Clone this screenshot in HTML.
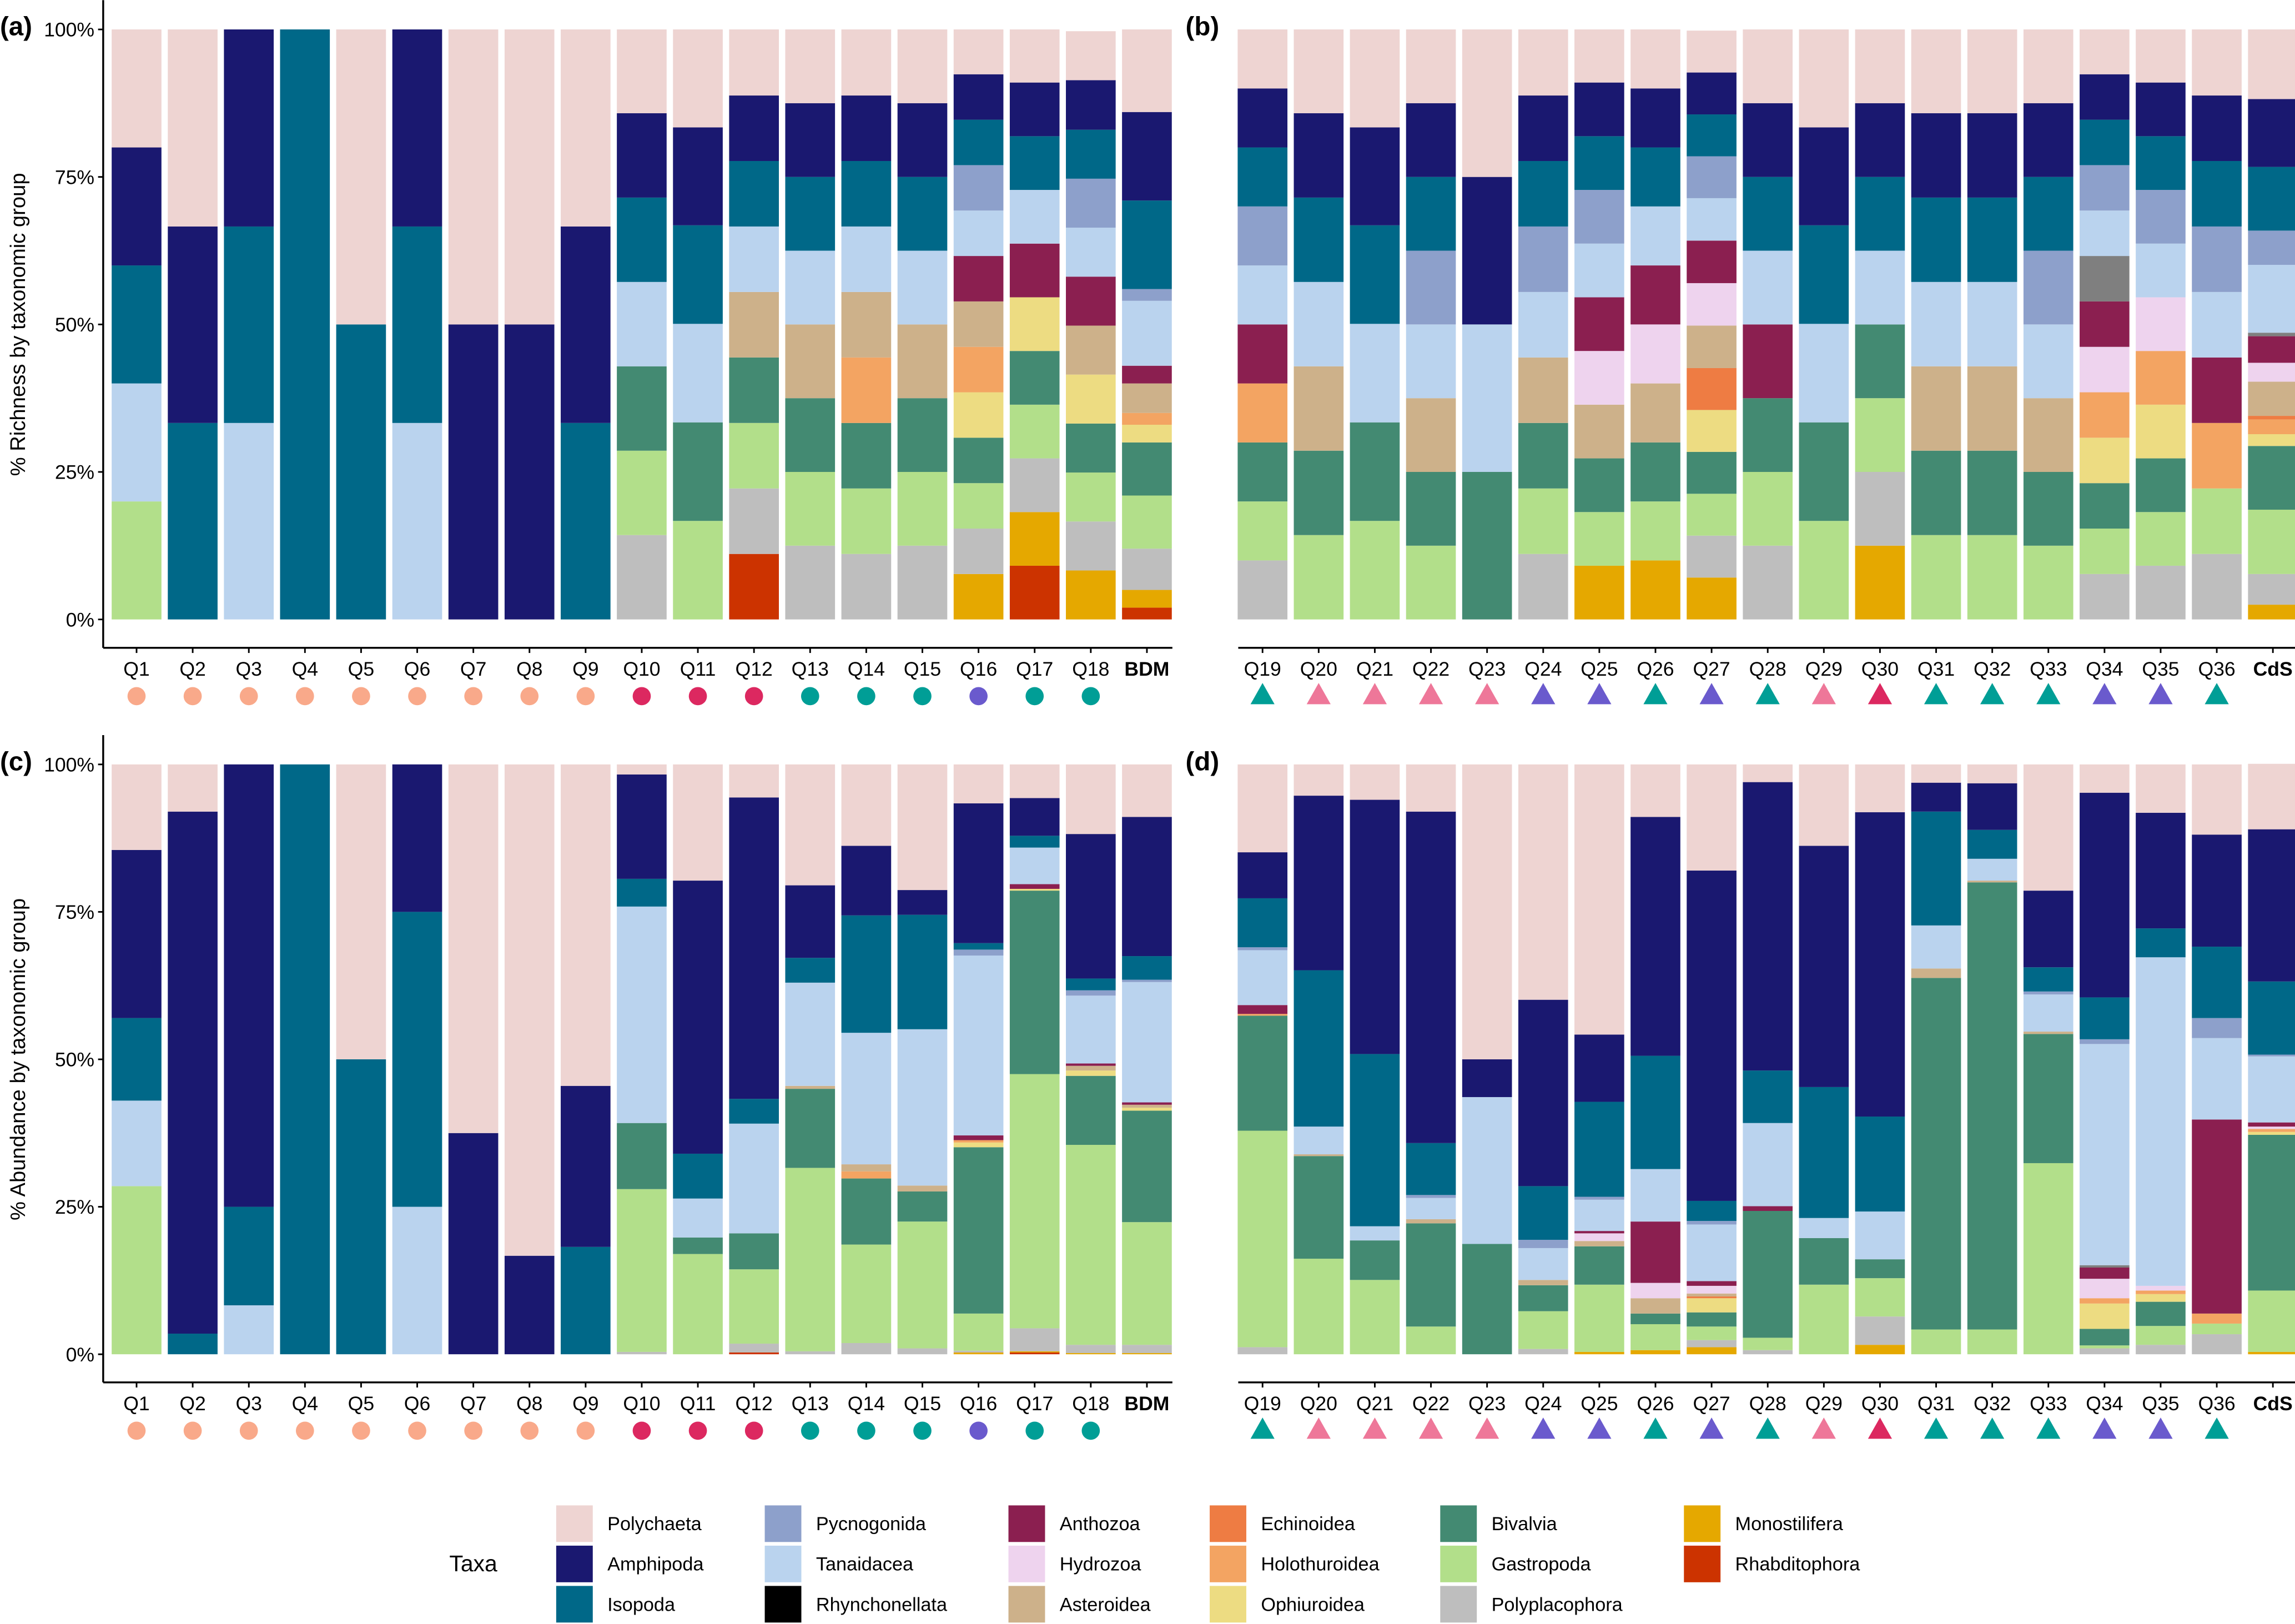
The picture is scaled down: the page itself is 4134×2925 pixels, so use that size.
<!DOCTYPE html>
<html><head><meta charset="utf-8"><title>Taxonomic composition</title>
<style>
html,body{margin:0;padding:0;background:#fff;}
svg{display:block;font-family:"Liberation Sans",Arial,sans-serif;}
</style></head>
<body>
<svg id="chart" xmlns="http://www.w3.org/2000/svg" width="4134" height="2925" viewBox="0 0 1568 1109" preserveAspectRatio="none"></svg>
<script>
// ---- data ----
const taxaCodes = ["Po","Am","Is","Py","Ta","Rh","Gr","An","Hy","As","Ec","Ho","Op","Bi","Ga","Pl","Mo","Ra"];
const taxaNames = {Po:"Polychaeta",Am:"Amphipoda",Is:"Isopoda",Py:"Pycnogonida",Ta:"Tanaidacea",Rh:"Rhynchonellata",Gr:"Other",An:"Anthozoa",Hy:"Hydrozoa",As:"Asteroidea",Ec:"Echinoidea",Ho:"Holothuroidea",Op:"Ophiuroidea",Bi:"Bivalvia",Ga:"Gastropoda",Pl:"Polyplacophora",Mo:"Monostilifera",Ra:"Rhabditophora"};
const taxaColors = {Po:"#EED4D2",Am:"#1A1870",Is:"#006888",Py:"#8DA0CB",Ta:"#BAD3EE",Rh:"#000000",Gr:"#7F7F7F",An:"#8B1F50",Hy:"#EED3EE",As:"#CDB18A",Ec:"#EE7C43",Ho:"#F3A462",Op:"#EDDC82",Bi:"#438A72",Ga:"#B2DF8A",Pl:"#BEBEBE",Mo:"#E5A800",Ra:"#CC3300"};
const stackOrder = ["Ra","Mo","Pl","Ga","Bi","Op","Ho","Ec","As","Hy","An","Gr","Rh","Ta","Py","Is","Am","Po"];

const sitesLeft = ["Q1","Q2","Q3","Q4","Q5","Q6","Q7","Q8","Q9","Q10","Q11","Q12","Q13","Q14","Q15","Q16","Q17","Q18","BDM"];
const sitesRight = ["Q19","Q20","Q21","Q22","Q23","Q24","Q25","Q26","Q27","Q28","Q29","Q30","Q31","Q32","Q33","Q34","Q35","Q36","CdS"];
const markersLeft = ["s","s","s","s","s","s","s","s","s","c","c","c","t","t","t","p","t","t",""];
const markersRight = ["t","k","k","k","k","p","p","t","p","t","k","c","t","t","t","p","p","t",""];
const yTicks = [0,25,50,75,100];
const yTickLabels = ["0%","25%","50%","75%","100%"];

// (a) richness, left sites
const richnessA = [
 [["Ga",20],["Ta",20],["Is",20],["Am",20],["Po",20]],
 [["Is",33.3],["Am",33.3],["Po",33.4]],
 [["Ta",33.3],["Is",33.3],["Am",33.4]],
 [["Is",100]],
 [["Is",50],["Po",50]],
 [["Ta",33.3],["Is",33.3],["Am",33.4]],
 [["Am",50],["Po",50]],
 [["Am",50],["Po",50]],
 [["Is",33.3],["Am",33.3],["Po",33.4]],
 [["Pl",14.3],["Ga",14.3],["Bi",14.3],["Ta",14.3],["Is",14.3],["Am",14.3],["Po",14.2]],
 [["Ga",16.7],["Bi",16.7],["Ta",16.7],["Is",16.7],["Am",16.6],["Po",16.6]],
 [["Ra",11.1],["Pl",11.1],["Ga",11.1],["Bi",11.1],["As",11.1],["Ta",11.1],["Is",11.1],["Am",11.1],["Po",11.2]],
 [["Pl",12.5],["Ga",12.5],["Bi",12.5],["As",12.5],["Ta",12.5],["Is",12.5],["Am",12.5],["Po",12.5]],
 [["Pl",11.1],["Ga",11.1],["Bi",11.1],["Ho",11.1],["As",11.1],["Ta",11.1],["Is",11.1],["Am",11.1],["Po",11.2]],
 [["Pl",12.5],["Ga",12.5],["Bi",12.5],["As",12.5],["Ta",12.5],["Is",12.5],["Am",12.5],["Po",12.5]],
 [["Mo",7.7],["Pl",7.7],["Ga",7.7],["Bi",7.7],["Op",7.7],["Ho",7.7],["As",7.7],["An",7.7],["Ta",7.7],["Py",7.7],["Is",7.7],["Am",7.7],["Po",7.6]],
 [["Ra",9.1],["Mo",9.1],["Pl",9.1],["Ga",9.1],["Bi",9.1],["Op",9.1],["An",9.1],["Ta",9.1],["Is",9.1],["Am",9.1],["Po",9]],
 [["Mo",8.3],["Pl",8.3],["Ga",8.3],["Bi",8.3],["Op",8.3],["As",8.3],["An",8.3],["Ta",8.3],["Py",8.3],["Is",8.3],["Am",8.4],["Po",8.3]],
 [["Ra",2],["Mo",3],["Pl",7],["Ga",9],["Bi",9],["Op",3],["Ho",2],["As",5],["An",3],["Ta",11],["Py",2],["Is",15],["Am",15],["Po",14]]
];
// (b) richness, right sites
const richnessB = [
 [["Pl",10],["Ga",10],["Bi",10],["Ho",10],["An",10],["Ta",10],["Py",10],["Is",10],["Am",10],["Po",10]],
 [["Ga",14.3],["Bi",14.3],["As",14.3],["Ta",14.3],["Is",14.3],["Am",14.3],["Po",14.2]],
 [["Ga",16.7],["Bi",16.7],["Ta",16.7],["Is",16.7],["Am",16.6],["Po",16.6]],
 [["Ga",12.5],["Bi",12.5],["As",12.5],["Ta",12.5],["Py",12.5],["Is",12.5],["Am",12.5],["Po",12.5]],
 [["Bi",25],["Ta",25],["Am",25],["Po",25]],
 [["Pl",11.1],["Ga",11.1],["Bi",11.1],["As",11.1],["Ta",11.1],["Py",11.1],["Is",11.1],["Am",11.1],["Po",11.2]],
 [["Mo",9.1],["Ga",9.1],["Bi",9.1],["As",9.1],["Hy",9.1],["An",9.1],["Ta",9.1],["Py",9.1],["Is",9.1],["Am",9.1],["Po",9]],
 [["Mo",10],["Ga",10],["Bi",10],["As",10],["Hy",10],["An",10],["Ta",10],["Is",10],["Am",10],["Po",10]],
 [["Mo",7.1],["Pl",7.1],["Ga",7.1],["Bi",7.1],["Op",7.1],["Ec",7.1],["As",7.2],["Hy",7.2],["An",7.2],["Ta",7.2],["Py",7.1],["Is",7.1],["Am",7.1],["Po",7.1]],
 [["Pl",12.5],["Ga",12.5],["Bi",12.5],["An",12.5],["Ta",12.5],["Is",12.5],["Am",12.5],["Po",12.5]],
 [["Ga",16.7],["Bi",16.7],["Ta",16.7],["Is",16.7],["Am",16.6],["Po",16.6]],
 [["Mo",12.5],["Pl",12.5],["Ga",12.5],["Bi",12.5],["Ta",12.5],["Is",12.5],["Am",12.5],["Po",12.5]],
 [["Ga",14.3],["Bi",14.3],["As",14.3],["Ta",14.3],["Is",14.3],["Am",14.3],["Po",14.2]],
 [["Ga",14.3],["Bi",14.3],["As",14.3],["Ta",14.3],["Is",14.3],["Am",14.3],["Po",14.2]],
 [["Ga",12.5],["Bi",12.5],["As",12.5],["Ta",12.5],["Py",12.5],["Is",12.5],["Am",12.5],["Po",12.5]],
 [["Pl",7.7],["Ga",7.7],["Bi",7.7],["Op",7.7],["Ho",7.7],["Hy",7.7],["An",7.7],["Gr",7.7],["Ta",7.7],["Py",7.7],["Is",7.7],["Am",7.7],["Po",7.6]],
 [["Pl",9.1],["Ga",9.1],["Bi",9.1],["Op",9.1],["Ho",9.1],["Hy",9.1],["Ta",9.1],["Py",9.1],["Is",9.1],["Am",9.1],["Po",9]],
 [["Pl",11.1],["Ga",11.1],["Ho",11.1],["An",11.1],["Ta",11.1],["Py",11.1],["Is",11.1],["Am",11.1],["Po",11.2]],
 [["Mo",2.5],["Pl",5.2],["Ga",10.9],["Bi",10.8],["Op",2],["Ho",2.5],["Ec",0.6],["As",5.8],["Hy",3.2],["An",4.5],["Gr",0.6],["Ta",11.5],["Py",5.8],["Is",10.8],["Am",11.5],["Po",11.8]]
];
// (c) abundance, left sites
const abundanceC = [
 [["Ga",28.5],["Ta",14.5],["Is",14],["Am",28.5],["Po",14.5]],
 [["Is",3.5],["Am",88.5],["Po",8]],
 [["Ta",8.3],["Is",16.7],["Am",75]],
 [["Is",100]],
 [["Is",50],["Po",50]],
 [["Ta",25],["Is",50],["Am",25]],
 [["Am",37.5],["Po",62.5]],
 [["Am",16.7],["Po",83.3]],
 [["Is",18.2],["Am",27.3],["Po",54.5]],
 [["Pl",0.4],["Ga",27.6],["Bi",11.2],["Ta",36.7],["Is",4.7],["Am",17.7],["Po",1.7]],
 [["Ga",17],["Bi",2.8],["Ta",6.6],["Is",7.6],["Am",46.3],["Po",19.7]],
 [["Ra",0.3],["Pl",1.5],["Ga",12.6],["Bi",6.1],["Ta",18.6],["Is",4.2],["Am",51.1],["Po",5.6]],
 [["Pl",0.5],["Ga",31.1],["Bi",13.4],["As",0.5],["Ta",17.5],["Is",4.2],["Am",12.3],["Po",20.5]],
 [["Pl",1.9],["Ga",16.7],["Bi",11.2],["Ho",1.2],["As",1.2],["Ta",22.3],["Is",19.9],["Am",11.8],["Po",13.8]],
 [["Pl",1],["Ga",21.5],["Bi",5.1],["As",1],["Ta",26.5],["Is",19.4],["Am",4.2],["Po",21.3]],
 [["Mo",0.3],["Pl",0.3],["Ga",6.3],["Bi",28.2],["Op",0.8],["Ho",0.4],["An",0.8],["Ta",30.5],["Py",1],["Is",1.1],["Am",23.7],["Po",6.6]],
 [["Ra",0.3],["Mo",0.2],["Pl",3.9],["Ga",43.1],["Bi",31.1],["Op",0.3],["An",0.8],["Ta",6.2],["Is",2],["Am",6.4],["Po",5.7]],
 [["Mo",0.2],["Pl",1.4],["Ga",33.9],["Bi",11.7],["Op",0.9],["As",0.8],["An",0.4],["Ta",11.5],["Py",0.9],["Is",2],["Am",24.5],["Po",11.8]],
 [["Mo",0.2],["Pl",1.4],["Ga",20.8],["Bi",18.9],["Op",0.5],["As",0.5],["An",0.4],["Ta",20.4],["Py",0.4],["Is",4],["Am",23.6],["Po",8.9]]
];
// (d) abundance, right sites
const abundanceD = [
 [["Pl",1.2],["Ga",36.7],["Bi",19.5],["Ho",0.3],["An",1.5],["Ta",9.3],["Py",0.5],["Is",8.3],["Am",7.8],["Po",14.9]],
 [["Ga",16.2],["Bi",17.4],["As",0.3],["Ta",4.7],["Is",26.5],["Am",29.6],["Po",5.3]],
 [["Ga",12.6],["Bi",6.7],["Ta",2.4],["Is",29.2],["Am",43.1],["Po",6]],
 [["Ga",4.7],["Bi",17.5],["As",0.7],["Ta",3.6],["Py",0.5],["Is",8.8],["Am",56.2],["Po",8]],
 [["Bi",18.7],["Ta",24.9],["Am",6.4],["Po",50]],
 [["Pl",0.9],["Ga",6.4],["Bi",4.4],["As",0.9],["Ta",5.4],["Py",1.4],["Is",9.1],["Am",31.6],["Po",39.9]],
 [["Mo",0.4],["Ga",11.4],["Bi",6.5],["As",0.9],["Hy",1.3],["An",0.4],["Ta",5.3],["Py",0.5],["Is",16.1],["Am",11.4],["Po",45.8]],
 [["Mo",0.7],["Ga",4.4],["Bi",1.8],["As",2.6],["Hy",2.6],["An",10.4],["Ta",8.9],["Is",19.2],["Am",40.5],["Po",8.9]],
 [["Mo",1.2],["Pl",1.2],["Ga",2.3],["Bi",2.4],["Op",2.4],["Ec",0.3],["As",0.5],["Hy",1.3],["An",0.8],["Ta",9.6],["Py",0.6],["Is",3.4],["Am",56],["Po",18]],
 [["Pl",0.7],["Ga",2.1],["Bi",21.5],["An",0.8],["Ta",14.1],["Is",8.9],["Am",48.9],["Po",3]],
 [["Ga",11.8],["Bi",7.9],["Ta",3.4],["Is",22.2],["Am",40.9],["Po",13.8]],
 [["Mo",1.6],["Pl",4.8],["Ga",6.5],["Bi",3.2],["Ta",8.1],["Is",16.1],["Am",51.6],["Po",8.1]],
 [["Ga",4.2],["Bi",59.6],["As",1.6],["Ta",7.3],["Is",19.3],["Am",4.9],["Po",3.1]],
 [["Ga",4.2],["Bi",75.8],["As",0.3],["Ta",3.7],["Is",4.9],["Am",7.9],["Po",3.2]],
 [["Ga",32.4],["Bi",21.9],["As",0.4],["Ta",6.3],["Py",0.5],["Is",4.1],["Am",13],["Po",21.4]],
 [["Pl",1],["Ga",0.5],["Bi",2.8],["Op",4.3],["Ho",0.9],["Hy",3.3],["An",1.9],["Gr",0.4],["Ta",37.5],["Py",0.8],["Is",7.1],["Am",34.7],["Po",4.8]],
 [["Pl",1.6],["Ga",3.2],["Bi",4.1],["Op",1.3],["Ho",0.6],["Hy",0.8],["Ta",55.7],["Is",4.9],["Am",19.6],["Po",8.2]],
 [["Pl",3.4],["Ga",1.8],["Ho",1.7],["An",32.9],["Ta",13.8],["Py",3.4],["Is",12.1],["Am",19],["Po",11.9]],
 [["Mo",0.4],["Ga",10.4],["Bi",26.4],["Op",0.5],["Ho",0.5],["Hy",0.4],["An",0.7],["Ta",11.2],["Py",0.3],["Is",12.4],["Am",25.8],["Po",11.1]]
];

// ---- drawing ----
const NS = "http://www.w3.org/2000/svg";
const svg = document.getElementById("chart");
const markerColors = {s:"#F9A98A",c:"#DC2860",t:"#009E96",p:"#6A5ACD",k:"#EE7799"};

function mk(tag, attrs, parent){
  const e = document.createElementNS(NS, tag);
  for (const k in attrs) e.setAttribute(k, attrs[k]);
  (parent||svg).appendChild(e);
  return e;
}

function drawPanel(cfg){
  const g = mk("g", {});
  
  
  const yScale = v => cfg.y0 - (cfg.y0 - cfg.y100) * v / 100;
  const xScale = i => cfg.x0 + cfg.step * i;
  const bw = 34;
  // bars
  cfg.data.forEach((bar, i) => {
    const bg = mk("g", {}, g);
    
    
    const sorted = bar.slice().sort((a,b)=>stackOrder.indexOf(a[0]) - stackOrder.indexOf(b[0]));
    let cum = 0;
    sorted.forEach(seg => {
      const yTop = yScale(cum + seg[1]);
      const yBot = yScale(cum);
      const r = mk("rect", {x: xScale(i) - bw/2, y: yTop, width: bw, height: Math.max(0, yBot - yTop), fill: taxaColors[seg[0]]}, bg);
      
      
      cum += seg[1];
    });
  });
  // y axis
  if (cfg.yAxis){
    const ax = mk("line", {x1: cfg.axisX, x2: cfg.axisX, y1: cfg.y100 - 20, y2: cfg.axisY, stroke: "#000", "stroke-width": 1.3}, g);
    
    
    yTicks.forEach((t, k) => {
      const tk = mk("line", {x1: cfg.axisX - 3.5, x2: cfg.axisX, y1: yScale(t), y2: yScale(t), stroke: "#000", "stroke-width": 1.1}, g);
      
      
      const tl = mk("text", {x: cfg.axisX - 6, y: yScale(t) + 4.8, "text-anchor": "end", "font-size": 13.5, fill: "#000"}, g);
      
      
      tl.textContent = yTickLabels[k];
    });
    const yc = (cfg.y0 + cfg.y100) / 2;
    const tt = mk("text", {x: 0, y: 0, transform: "translate(17," + yc + ") rotate(-90)", "text-anchor": "middle", "font-size": 14.5, fill: "#000"}, g);
    
    
    tt.textContent = cfg.yTitle;
  }
  // x axis
  const xa = mk("line", {x1: cfg.axisX, x2: cfg.axisEnd, y1: cfg.axisY, y2: cfg.axisY, stroke: "#000", "stroke-width": 1.3}, g);
  
  
  cfg.sites.forEach((s, i) => {
    const x = xScale(i);
    const tk = mk("line", {x1: x, x2: x, y1: cfg.axisY, y2: cfg.axisY + 3.5, stroke: "#000", "stroke-width": 1.1}, g);
    
    
    const bold = (s === "BDM" || s === "CdS");
    const tl = mk("text", {x: x, y: cfg.axisY + 19, "text-anchor": "middle", "font-size": 13.5, "font-weight": bold ? "bold" : "normal", fill: "#000"}, g);
    
    
    tl.textContent = s;
    const m = cfg.markers[i];
    if (m){
      const my = cfg.axisY + 33;
      let el;
      if (cfg.shape === "circle"){
        el = mk("circle", {cx: x, cy: my, r: 6.2, fill: markerColors[m]}, g);
      } else {
        el = mk("polygon", {points: (x-8.2)+","+(my+5.5)+" "+(x+8.2)+","+(my+5.5)+" "+x+","+(my-9)}, g);
        el.setAttribute("fill", markerColors[m]);
      }
      
      
    }
  });
  // panel label
  const pl = mk("text", {x: cfg.labelX, y: cfg.y100 + 4, "font-size": 18, "font-weight": "bold", fill: "#000"}, g);
  
  
  pl.textContent = cfg.label;
}

drawPanel({name:"panel-a-richness", label:"(a)", labelX:0, data:richnessA, sites:sitesLeft, markers:markersLeft, shape:"circle", x0:93.3, step:38.35, y0:423, y100:20.1, axisX:70.5, axisEnd:801, axisY:442.4, yAxis:true, yTitle:"% Richness by taxonomic group"});
drawPanel({name:"panel-b-richness", label:"(b)", labelX:810, data:richnessB, sites:sitesRight, markers:markersRight, shape:"tri", x0:862.6, step:38.35, y0:423, y100:20.1, axisX:846, axisEnd:1568, axisY:442.4, yAxis:false});
drawPanel({name:"panel-c-abundance", label:"(c)", labelX:0, data:abundanceC, sites:sitesLeft, markers:markersLeft, shape:"circle", x0:93.3, step:38.35, y0:924.8, y100:522, axisX:70.5, axisEnd:801, axisY:944, yAxis:true, yTitle:"% Abundance by taxonomic group"});
drawPanel({name:"panel-d-abundance", label:"(d)", labelX:810, data:abundanceD, sites:sitesRight, markers:markersRight, shape:"tri", x0:862.6, step:38.35, y0:924.8, y100:522, axisX:846, axisEnd:1568, axisY:944, yAxis:false});

// ---- legend ----
const legendCols = [["Po","Am","Is"],["Py","Ta","Rh"],["An","Hy","As"],["Ec","Ho","Op"],["Bi","Ga","Pl"],["Mo","Ra"]];
const legendColX = [380, 522.5, 689, 826.5, 984, 1150.5];
const legendRowY = [1028, 1055.5, 1083];
const lg = mk("g", {});


const lt = mk("text", {x: 307, y: 1073, "font-size": 15.5, fill: "#000"}, lg);


lt.textContent = "Taxa";
legendCols.forEach((col, c) => {
  col.forEach((code, r) => {
    const eg = mk("g", {}, lg);
    
    
    mk("rect", {x: legendColX[c], y: legendRowY[r], width: 25, height: 25, fill: taxaColors[code]}, eg);
    const tx = mk("text", {x: legendColX[c] + 35, y: legendRowY[r] + 17, "font-size": 13, fill: "#000"}, eg);
    tx.textContent = taxaNames[code];
  });
});
</script>
</body></html>
